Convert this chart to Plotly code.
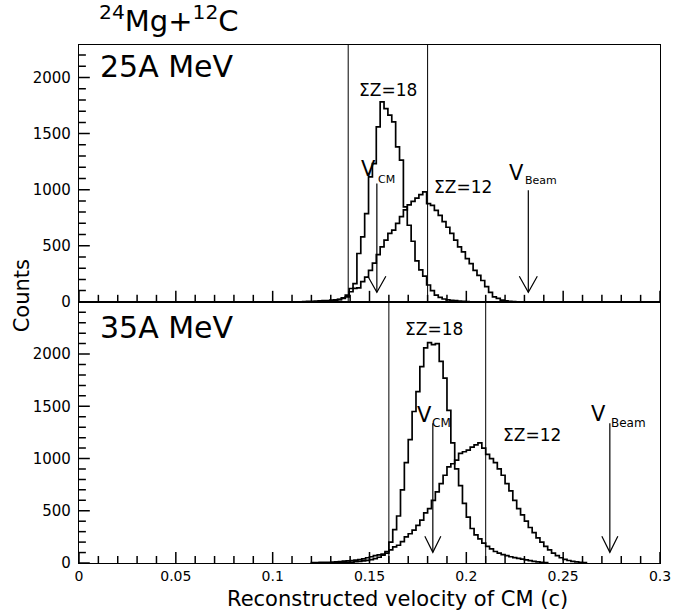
import plotly.graph_objects as go

# ---------------------------------------------------------------------------
# Reconstructed CM velocity spectra, 24Mg + 12C
# ---------------------------------------------------------------------------
BIN_WIDTH = 0.002

# 25A MeV
mev25_z18_start = 0.1255
mev25_z18_counts = [3, 5, 8, 12, 20, 35, 60, 119, 163, 431, 579, 787, 1114, 1233,
                    1560, 1783, 1723, 1664, 1604, 1381, 1263, 847, 683, 540, 365,
                    285, 230, 150, 100, 60, 40, 25, 18, 14, 10, 7, 5, 3]
mev25_z12_start = 0.1155
mev25_z12_counts = [3, 4, 5, 6, 8, 10, 12, 15, 18, 22, 30, 45, 90, 120, 125, 180,
                    220, 280, 345, 420, 490, 550, 610, 640, 700, 760, 820, 865,
                    895, 925, 955, 980, 875, 860, 815, 770, 715, 665, 610, 550,
                    490, 445, 385, 340, 280, 235, 190, 135, 85, 45, 30, 15, 8, 4, 2]

# 35A MeV
mev35_z18_start = 0.130
mev35_z18_counts = [2, 3, 4, 5, 7, 9, 12, 16, 20, 26, 33, 42, 55, 75, 110,
                    200, 320, 450, 700, 960, 1180, 1450, 1640, 1880, 2060, 2110,
                    2090, 2100, 1930, 1770, 1460, 1150, 900, 740, 570, 440, 330,
                    270, 230, 190, 160, 135, 110, 95, 80, 70, 60, 52, 45, 38, 30,
                    22, 15, 10, 6, 3]
mev35_z12_start = 0.120
mev35_z12_counts = [3, 4, 5, 6, 7, 9, 11, 14, 18, 21, 24, 28, 32, 40, 50, 60, 70,
                    78, 85, 95, 125, 155, 170, 205, 250, 280, 315, 360, 410, 480,
                    520, 600, 680, 760, 840, 920, 950, 985, 1050, 1065, 1080, 1110,
                    1130, 1150, 1100, 1040, 1000, 960, 900, 840, 760, 690, 600, 520,
                    460, 400, 340, 290, 240, 200, 160, 125, 95, 70, 50, 35, 24, 16,
                    10, 6, 3]

# cut positions and reference velocities (units of c)
mev25_cuts = [0.139, 0.18]
mev35_cuts = [0.16, 0.21]
mev25_vcm, mev25_vbeam = 0.1538, 0.232
mev35_vcm, mev35_vbeam = 0.1827, 0.2741

# labelled ticks
x_tick_vals = [0, 0.05, 0.1, 0.15, 0.2, 0.25, 0.3]
x_tick_text = ["0", "0.05", "0.1", "0.15", "0.2", "0.25", "0.3"]
y_tick_vals = [0, 500, 1000, 1500, 2000]
y_tick_text = ["0", "500", "1000", "1500", "2000"]
x_minor_step = 0.01
y_minor_step = 100

FONT = "DejaVu Sans"
INK = "black"

# plot-area geometry (pixels)
W, H = 683, 610
M_L, M_R, M_T, M_B = 79, 13, 45, 47
SPLIT = 0.5042
PLOT_W = W - M_L - M_R
PLOT_H = H - M_T - M_B
TOP_H = PLOT_H * (1 - SPLIT)
BOT_H = PLOT_H * SPLIT
MAJOR_LEN, MINOR_LEN = 11, 7
TICK_W = 1.5


def step_xy(start, counts, width=BIN_WIDTH):
    """Histogram outline: bin edges and counts for an hv step line."""
    edges = [start + i * width for i in range(len(counts) + 1)]
    xs = [edges[0]] + edges
    ys = [0] + list(counts) + [0]
    return xs, ys


fig = go.Figure()

for start, counts, xa, ya in [
    (mev25_z18_start, mev25_z18_counts, "x2", "y2"),
    (mev25_z12_start, mev25_z12_counts, "x2", "y2"),
    (mev35_z18_start, mev35_z18_counts, "x", "y"),
    (mev35_z12_start, mev35_z12_counts, "x", "y"),
]:
    xs, ys = step_xy(start, counts)
    fig.add_trace(go.Scatter(x=xs, y=ys, mode="lines", line_shape="hv",
                             line=dict(color=INK, width=1.7),
                             xaxis=xa, yaxis=ya, showlegend=False,
                             hoverinfo="skip"))

shapes = []
# vertical cut lines spanning each panel
for v in mev25_cuts:
    shapes.append(dict(type="line", xref="x2", yref="y2 domain", x0=v, x1=v,
                       y0=0, y1=1, line=dict(color=INK, width=1)))
for v in mev35_cuts:
    shapes.append(dict(type="line", xref="x", yref="y domain", x0=v, x1=v,
                       y0=0, y1=1, line=dict(color=INK, width=1)))


def tick_positions(step, hi):
    return [round(i * step, 6) for i in range(int(round(hi / step)) + 1)]


def is_major(v, majors):
    return any(abs(v - m) < 1e-9 for m in majors)


# tick marks pointing into each panel: long at labelled values, short between
for xa, ya, ph, y_hi in [("x", "y", BOT_H, 2400), ("x2", "y2", TOP_H, 2200)]:
    for v in tick_positions(x_minor_step, 0.3):
        ln = MAJOR_LEN if is_major(v, x_tick_vals) else MINOR_LEN
        shapes.append(dict(type="line", xref=xa, yref=f"{ya} domain",
                           x0=v, x1=v, y0=0, y1=ln / ph,
                           line=dict(color=INK, width=TICK_W)))
    for v in tick_positions(y_minor_step, y_hi):
        ln = MAJOR_LEN if is_major(v, y_tick_vals) else MINOR_LEN
        shapes.append(dict(type="line", xref=f"{xa} domain", yref=ya,
                           x0=0, x1=ln / PLOT_W, y0=v, y1=v,
                           line=dict(color=INK, width=TICK_W)))


def arrow(v, y_top, y_tip, xref, yref, half=9, depth=16):
    shapes.append(dict(type="line", xref=xref, yref=yref, x0=v, x1=v,
                       y0=y_top, y1=y_tip, line=dict(color=INK, width=1.2)))
    shapes.append(dict(type="path", xref=xref, yref=yref,
                       xsizemode="pixel", ysizemode="pixel",
                       xanchor=v, yanchor=y_tip,
                       path=f"M {-half},{depth} L 0,0 L {half},{depth}",
                       line=dict(color=INK, width=1.2)))


arrow(mev25_vcm, 1056, 86, "x2", "y2")
arrow(mev25_vbeam, 995, 86, "x2", "y2")
arrow(mev35_vcm, 1338, 102, "x", "y", half=8)
arrow(mev35_vbeam, 1338, 102, "x", "y", half=8)

ann = []


def text(t, x, y, xref, yref, size, xanchor="center", yanchor="middle", angle=0):
    ann.append(dict(text=t, x=x, y=y, xref=xref, yref=yref, showarrow=False,
                    xanchor=xanchor, yanchor=yanchor, textangle=angle,
                    font=dict(family=FONT, size=size, color=INK)))


# title and panel labels
text("<sup>24</sup>Mg+<sup>12</sup>C", 0.0305, 1.05, "paper", "paper", 29,
     xanchor="left")
text("25A MeV", 0.032, 0.918, "x2 domain", "y2 domain", 30, xanchor="left")
text("35A MeV", 0.032, 0.903, "x domain", "y domain", 30, xanchor="left")

# 25A MeV labels
text("\u03a3Z=18", 0.1594, 1887, "x2", "y2", 17)
text("\u03a3Z=12", 0.1985, 1022, "x2", "y2", 17)
text("V", 0.1497, 1183, "x2", "y2", 21)
text("CM", 0.1586, 1094, "x2", "y2", 11)
text("V", 0.2259, 1147, "x2", "y2", 21)
text("Beam", 0.2386, 1084, "x2", "y2", 11)

# 35A MeV labels
text("\u03a3Z=18", 0.1832, 2239, "x", "y", 17)
text("\u03a3Z=12", 0.2340, 1223, "x", "y", 17)
text("V", 0.1782, 1415, "x", "y", 21)
text("CM", 0.1871, 1338, "x", "y", 12)
text("V", 0.2683, 1424, "x", "y", 21)
text("Beam", 0.2837, 1338, "x", "y", 12)

# axis titles
text("Reconstructed velocity of CM (c)", 0.548, -0.069, "paper", "paper", 21)
text("Counts", -0.098, 0.515, "paper", "paper", 21, angle=-90)

common_x = dict(range=[0, 0.3], showline=True, mirror=True, linecolor=INK,
                linewidth=1.3, showgrid=False, zeroline=False,
                tickmode="array", tickvals=x_tick_vals, ticktext=x_tick_text,
                ticks="", tickfont=dict(family=FONT, size=14, color=INK))
common_y = dict(showline=True, mirror=True, linecolor=INK, linewidth=1.3,
                showgrid=False, zeroline=False, tickmode="array",
                tickvals=y_tick_vals, ticktext=y_tick_text, ticks="",
                tickfont=dict(family=FONT, size=15, color=INK),
                ticklabelstandoff=4)

fig.update_layout(
    width=W, height=H,
    margin=dict(l=M_L, r=M_R, t=M_T, b=M_B),
    paper_bgcolor="white", plot_bgcolor="white",
    xaxis=dict(common_x, anchor="y", domain=[0, 1]),
    yaxis=dict(common_y, anchor="x", domain=[0, SPLIT], range=[0, 2500]),
    xaxis2=dict(common_x, anchor="y2", domain=[0, 1], matches="x",
                showticklabels=False),
    yaxis2=dict(common_y, anchor="x2", domain=[SPLIT, 1], range=[0, 2290]),
    shapes=shapes,
    annotations=ann,
)

fig.write_html("out.html")
